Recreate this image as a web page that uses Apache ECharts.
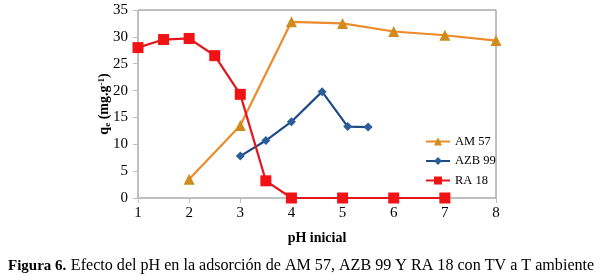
<!DOCTYPE html>
<html>
<head>
<meta charset="utf-8">
<script src="https://cdn.jsdelivr.net/npm/echarts@6/dist/echarts.min.js"></script>
<style>
html, body { margin: 0; padding: 0; background: #fff; }
#one { width: 600px; height: 275px; }
</style>
</head>
<body>
<div id="one"></div>
<script>
// datos
var names = ['AM 57', 'AZB 99', 'RA 18'];
var am57 = [[2, 3.5], [3, 13.5], [4, 32.8], [5, 32.5], [6, 31], [7, 30.3], [8, 29.3]];
var azb99 = [[3, 7.8], [3.5, 10.7], [4, 14.2], [4.6, 19.8], [5.1, 13.3], [5.5, 13.2]];
var ra18 = [[1, 28], [1.5, 29.5], [2, 29.7], [2.5, 26.5], [3, 19.3], [3.5, 3.2], [4, 0], [5, 0], [6, 0], [7, 0]];
var xTicks = [1, 2, 3, 4, 5, 6, 7, 8];
var yTicks = [0, 5, 10, 15, 20, 25, 30, 35];

var serif = '"Liberation Serif", "Times New Roman", serif';
var myChart = echarts.init(document.getElementById('one'));

myChart.setOption({
    animation: false,
    textStyle: { fontFamily: serif },
    title: {
        left: 3,
        top: 252,
        text: '{b|Figura 6.} {n|Efecto del pH en la adsorción de AM 57, AZB 99 Y RA 18 con TV a T ambiente}',
        textStyle: {
            fontWeight: 'normal',
            rich: {
                b: { fontFamily: serif, fontSize: 15, fontWeight: 'bold', color: '#000' },
                n: { fontFamily: serif, fontSize: 16.1, fontWeight: 'normal', color: '#000' }
            }
        }
    },
    legend: {
        orient: 'vertical',
        left: 420,
        top: 130,
        itemGap: 6.5,
        itemWidth: 24,
        itemHeight: 10,
        data: names,
        textStyle: { fontFamily: serif, fontSize: 12.5, color: '#000' }
    },
    grid: {
        show: true,
        left: 138,
        top: 10,
        right: 104,
        bottom: 77,
        borderColor: '#808080',
        borderWidth: 1
    },
    xAxis: {
        type: 'value',
        min: xTicks[0],
        max: xTicks[xTicks.length - 1],
        interval: 1,
        name: 'pH inicial',
        nameLocation: 'middle',
        nameGap: 33,
        nameTextStyle: { fontFamily: serif, fontSize: 14, fontWeight: 'bold', color: '#000' },
        axisLine: { lineStyle: { color: '#bfbfbf' } },
        axisTick: { show: true, length: 5, lineStyle: { color: '#bfbfbf' } },
        axisLabel: { fontFamily: serif, fontSize: 15, color: '#000', margin: 8 },
        splitLine: { show: false }
    },
    yAxis: {
        type: 'value',
        min: yTicks[0],
        max: yTicks[yTicks.length - 1],
        interval: 5,
        name: '{q|q}{s|e}{q| (mg.g}{p|-1}{q|)}',
        nameLocation: 'middle',
        nameGap: 26,
        nameMoveOverlap: false,
        nameTextStyle: {
            rich: {
                q: { fontFamily: serif, fontSize: 14, fontWeight: 'bold', color: '#000' },
                s: { fontFamily: serif, fontSize: 9, fontWeight: 'bold', color: '#000', verticalAlign: 'bottom', padding: [6, 0, 0, 0] },
                p: { fontFamily: serif, fontSize: 9, fontWeight: 'bold', color: '#000', verticalAlign: 'top', padding: [0, 0, 6, 0] }
            }
        },
        axisLine: { show: true, lineStyle: { color: '#bfbfbf' } },
        axisTick: { show: true, length: 5, lineStyle: { color: '#bfbfbf' } },
        axisLabel: { fontFamily: serif, fontSize: 15, color: '#000', margin: 10 },
        splitLine: { show: false }
    },
    series: [
        {
            name: names[0],
            type: 'line',
            data: am57,
            symbol: 'triangle',
            symbolSize: 11,
            lineStyle: { color: '#ed8a2a', width: 2.2 },
            itemStyle: { color: '#d18a1c' },
            z: 2
        },
        {
            name: names[1],
            type: 'line',
            data: azb99,
            symbol: 'diamond',
            symbolSize: 9,
            lineStyle: { color: '#1f4a87', width: 2.2 },
            itemStyle: { color: '#2a5d9c' },
            z: 3
        },
        {
            name: names[2],
            type: 'line',
            data: ra18,
            symbol: 'rect',
            symbolSize: 11,
            lineStyle: { color: '#e4151c', width: 2.2 },
            itemStyle: { color: '#f01214' },
            z: 4
        }
    ]
});
</script>
</body>
</html>
